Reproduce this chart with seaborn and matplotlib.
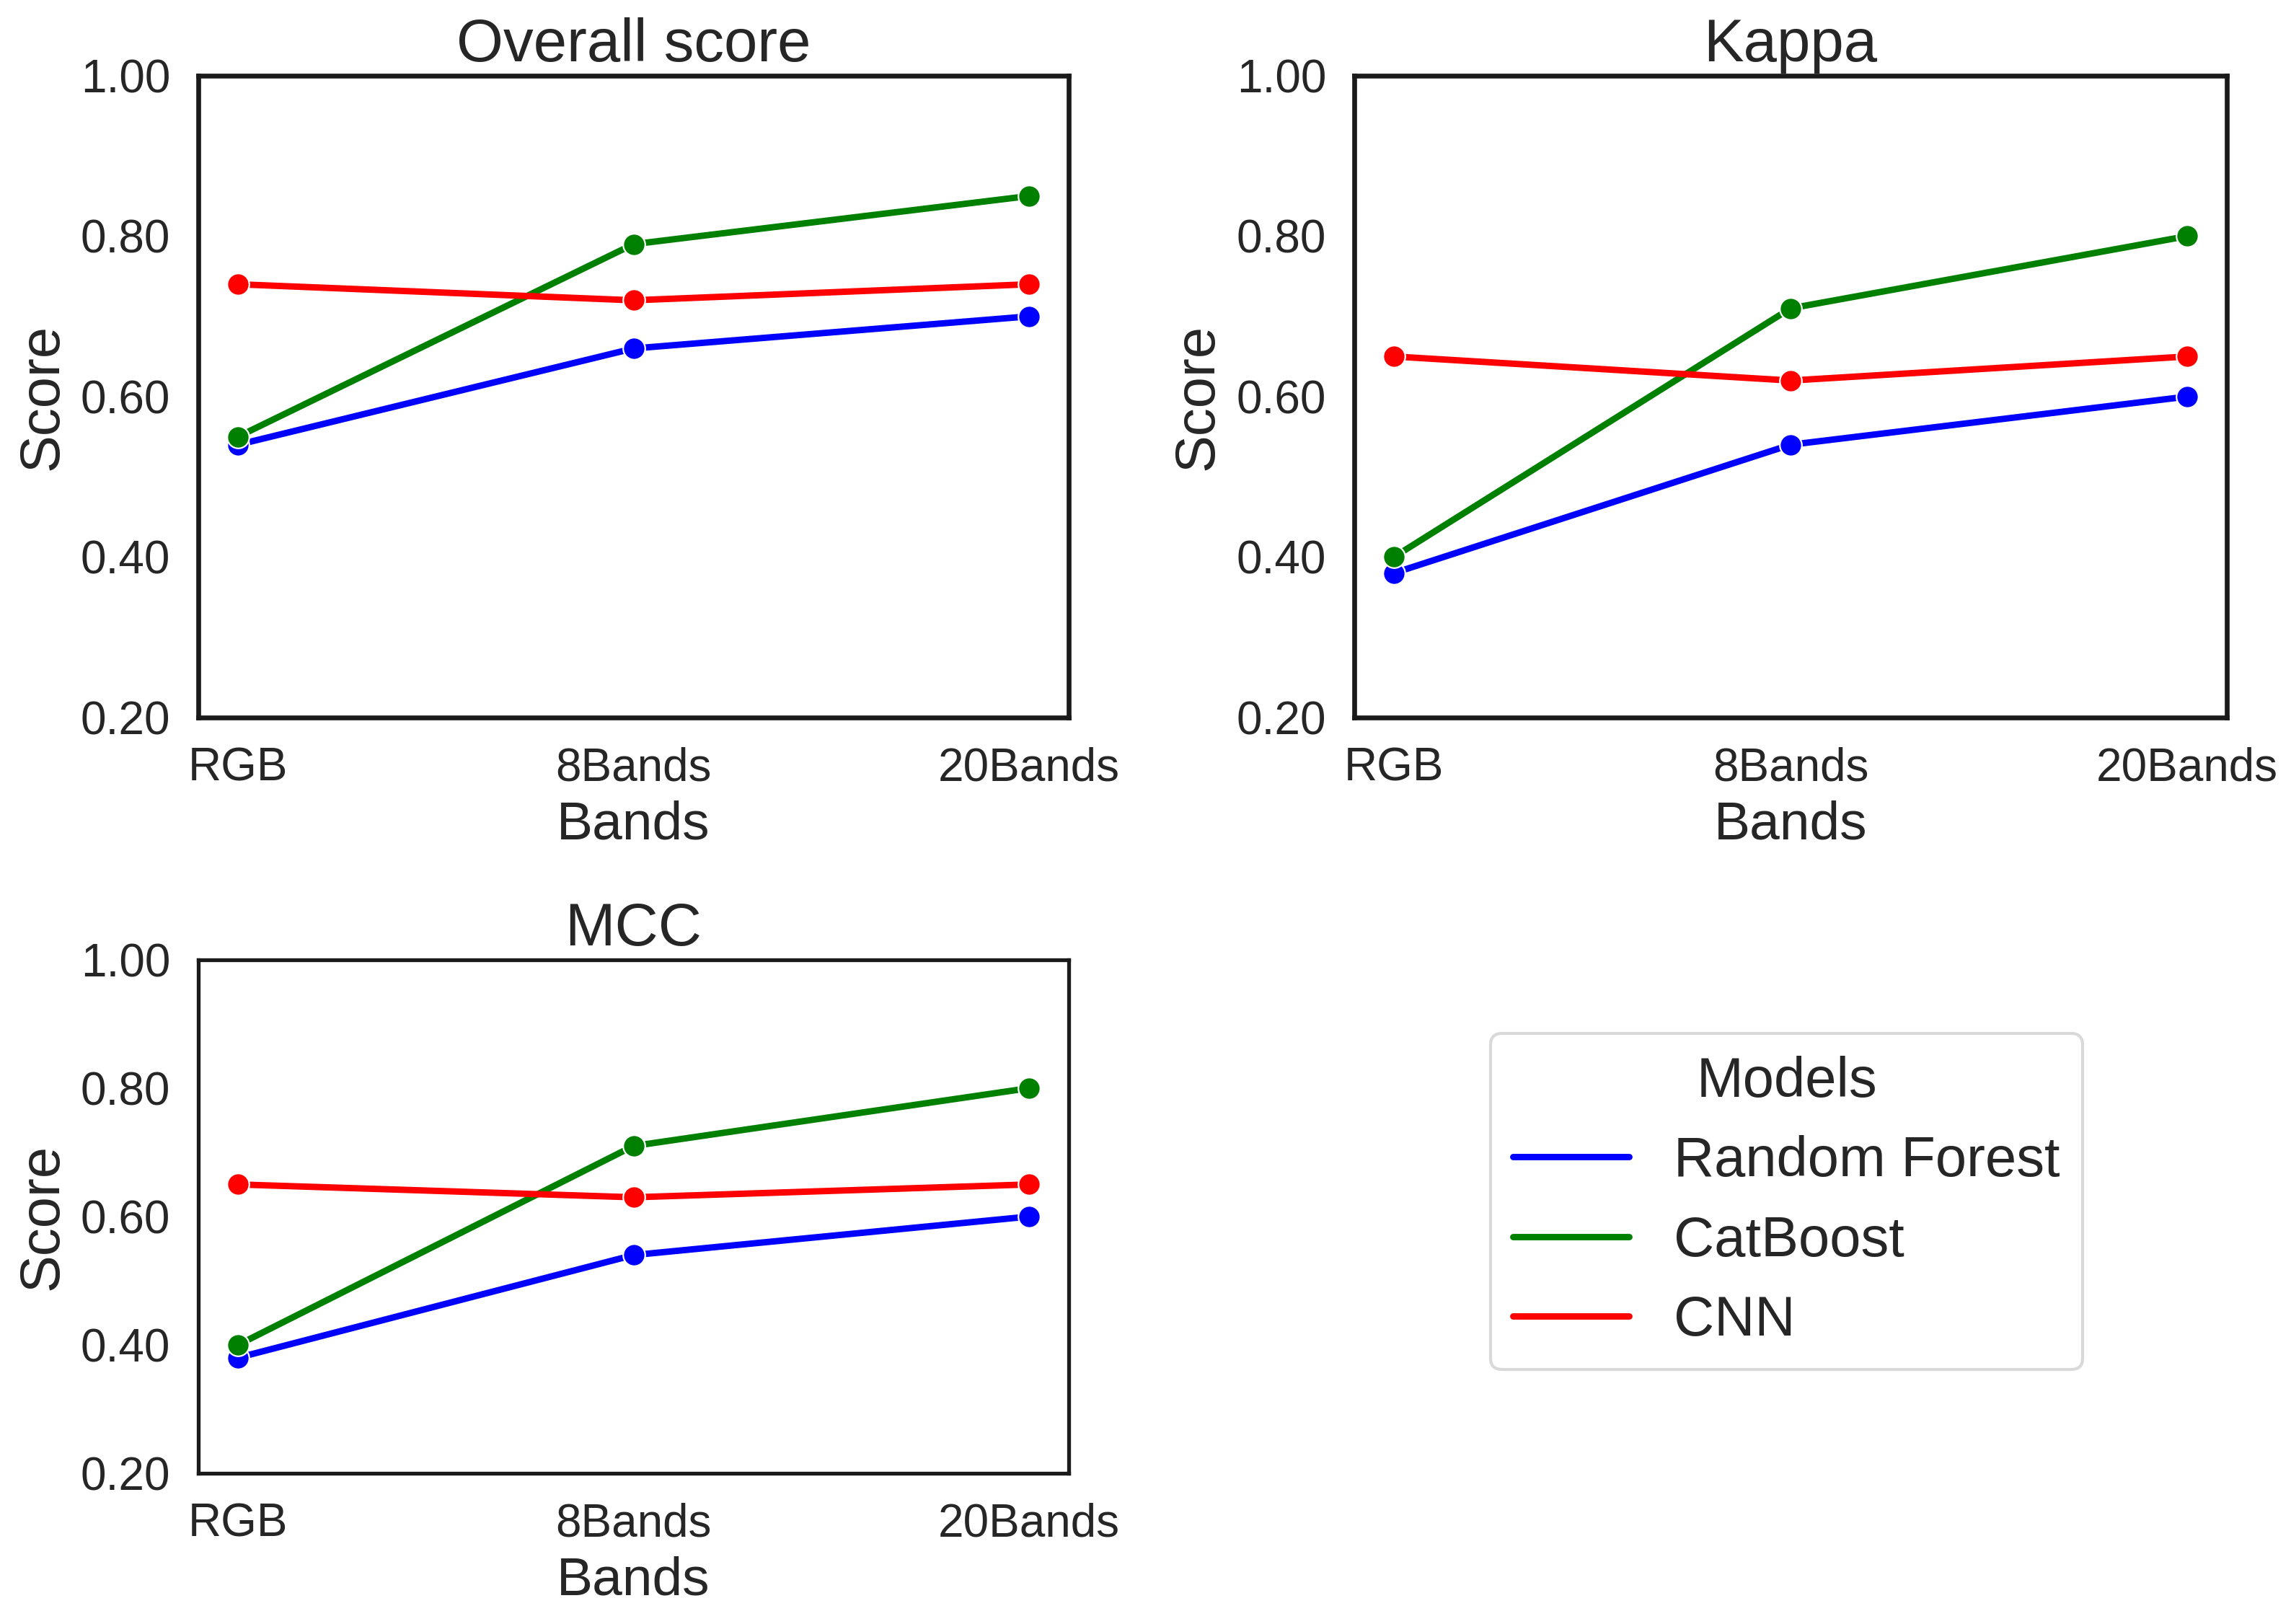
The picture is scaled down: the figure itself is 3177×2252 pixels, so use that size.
import matplotlib
matplotlib.use("Agg")
from matplotlib import pyplot as plt
from matplotlib.lines import Line2D
from matplotlib.ticker import FormatStrFormatter
import pandas as pd
import seaborn as sns

sns.set_theme(style="white")
plt.rcParams["font.family"] = ["Liberation Sans", "DejaVu Sans"]

bands = ["RGB", "8Bands", "20Bands"]
models = ["Random Forest", "CatBoost", "CNN"]
palette = {"Random Forest": "blue", "CatBoost": "green", "CNN": "red"}

overall_rf = [0.54, 0.66, 0.70]
overall_cb = [0.55, 0.79, 0.85]
overall_cnn = [0.74, 0.72, 0.74]

kappa_rf = [0.38, 0.54, 0.60]
kappa_cb = [0.40, 0.71, 0.80]
kappa_cnn = [0.65, 0.62, 0.65]

mcc_rf = [0.38, 0.54, 0.60]
mcc_cb = [0.40, 0.71, 0.80]
mcc_cnn = [0.65, 0.63, 0.65]


def to_long(rf, cb, cnn):
  rows = []
  for model, vals in zip(models, [rf, cb, cnn]):
    for b, v in zip(bands, vals):
      rows.append({"Bands": b, "Score": v, "Models": model})
  return pd.DataFrame(rows)


# title, data, axes position, spine width
panels = [
  ("Overall score", to_long(overall_rf, overall_cb, overall_cnn), [0.0866, 0.5582, 0.3799, 0.3952], 2.4),
  ("Kappa", to_long(kappa_rf, kappa_cb, kappa_cnn), [0.5911, 0.5582, 0.3809, 0.3952], 2.4),
  ("MCC", to_long(mcc_rf, mcc_cb, mcc_cnn), [0.0866, 0.0928, 0.3799, 0.3162], 1.9),
]

fig = plt.figure(figsize=(15.885, 11.26), dpi=200)

for title, df, pos, sw in panels:
  ax = fig.add_axes(pos)
  sns.lineplot(data=df, x="Bands", y="Score", hue="Models", palette=palette,
               marker="o", markersize=11, markeredgecolor="white", markeredgewidth=0.8,
               linewidth=3.2, legend=False, ax=ax)
  ax.set_ylim(0.2, 1.0)
  ax.set_yticks([0.2, 0.4, 0.6, 0.8, 1.0])
  ax.yaxis.set_major_formatter(FormatStrFormatter("%.2f"))
  ax.tick_params(axis="x", labelsize=23, pad=14.5, length=0)
  ax.tick_params(axis="y", labelsize=23, pad=14, length=0)
  ax.set_title(title, fontsize=30, pad=7)
  ax.set_xlabel("Bands", fontsize=27, labelpad=5)
  ax.set_ylabel("Score", fontsize=28, labelpad=6)
  for sp in ax.spines.values():
    sp.set_linewidth(sw)
    sp.set_color("#1a1a1a")

handles = [Line2D([], [], color=palette[m], linewidth=3.2) for m in models]
leg = fig.legend(handles, models, title="Models", loc="upper left",
                 bbox_to_anchor=(0.6506, 0.3637), borderaxespad=0,
                 fontsize=28, title_fontsize=28, handlelength=2.07,
                 handletextpad=0.8, labelspacing=0.48, borderpad=0.4,
                 frameon=True, fancybox=True)
leg.get_frame().set_edgecolor("#d0d0d0")
leg.get_frame().set_linewidth(1.5)

plt.savefig("out.png", dpi=200)
